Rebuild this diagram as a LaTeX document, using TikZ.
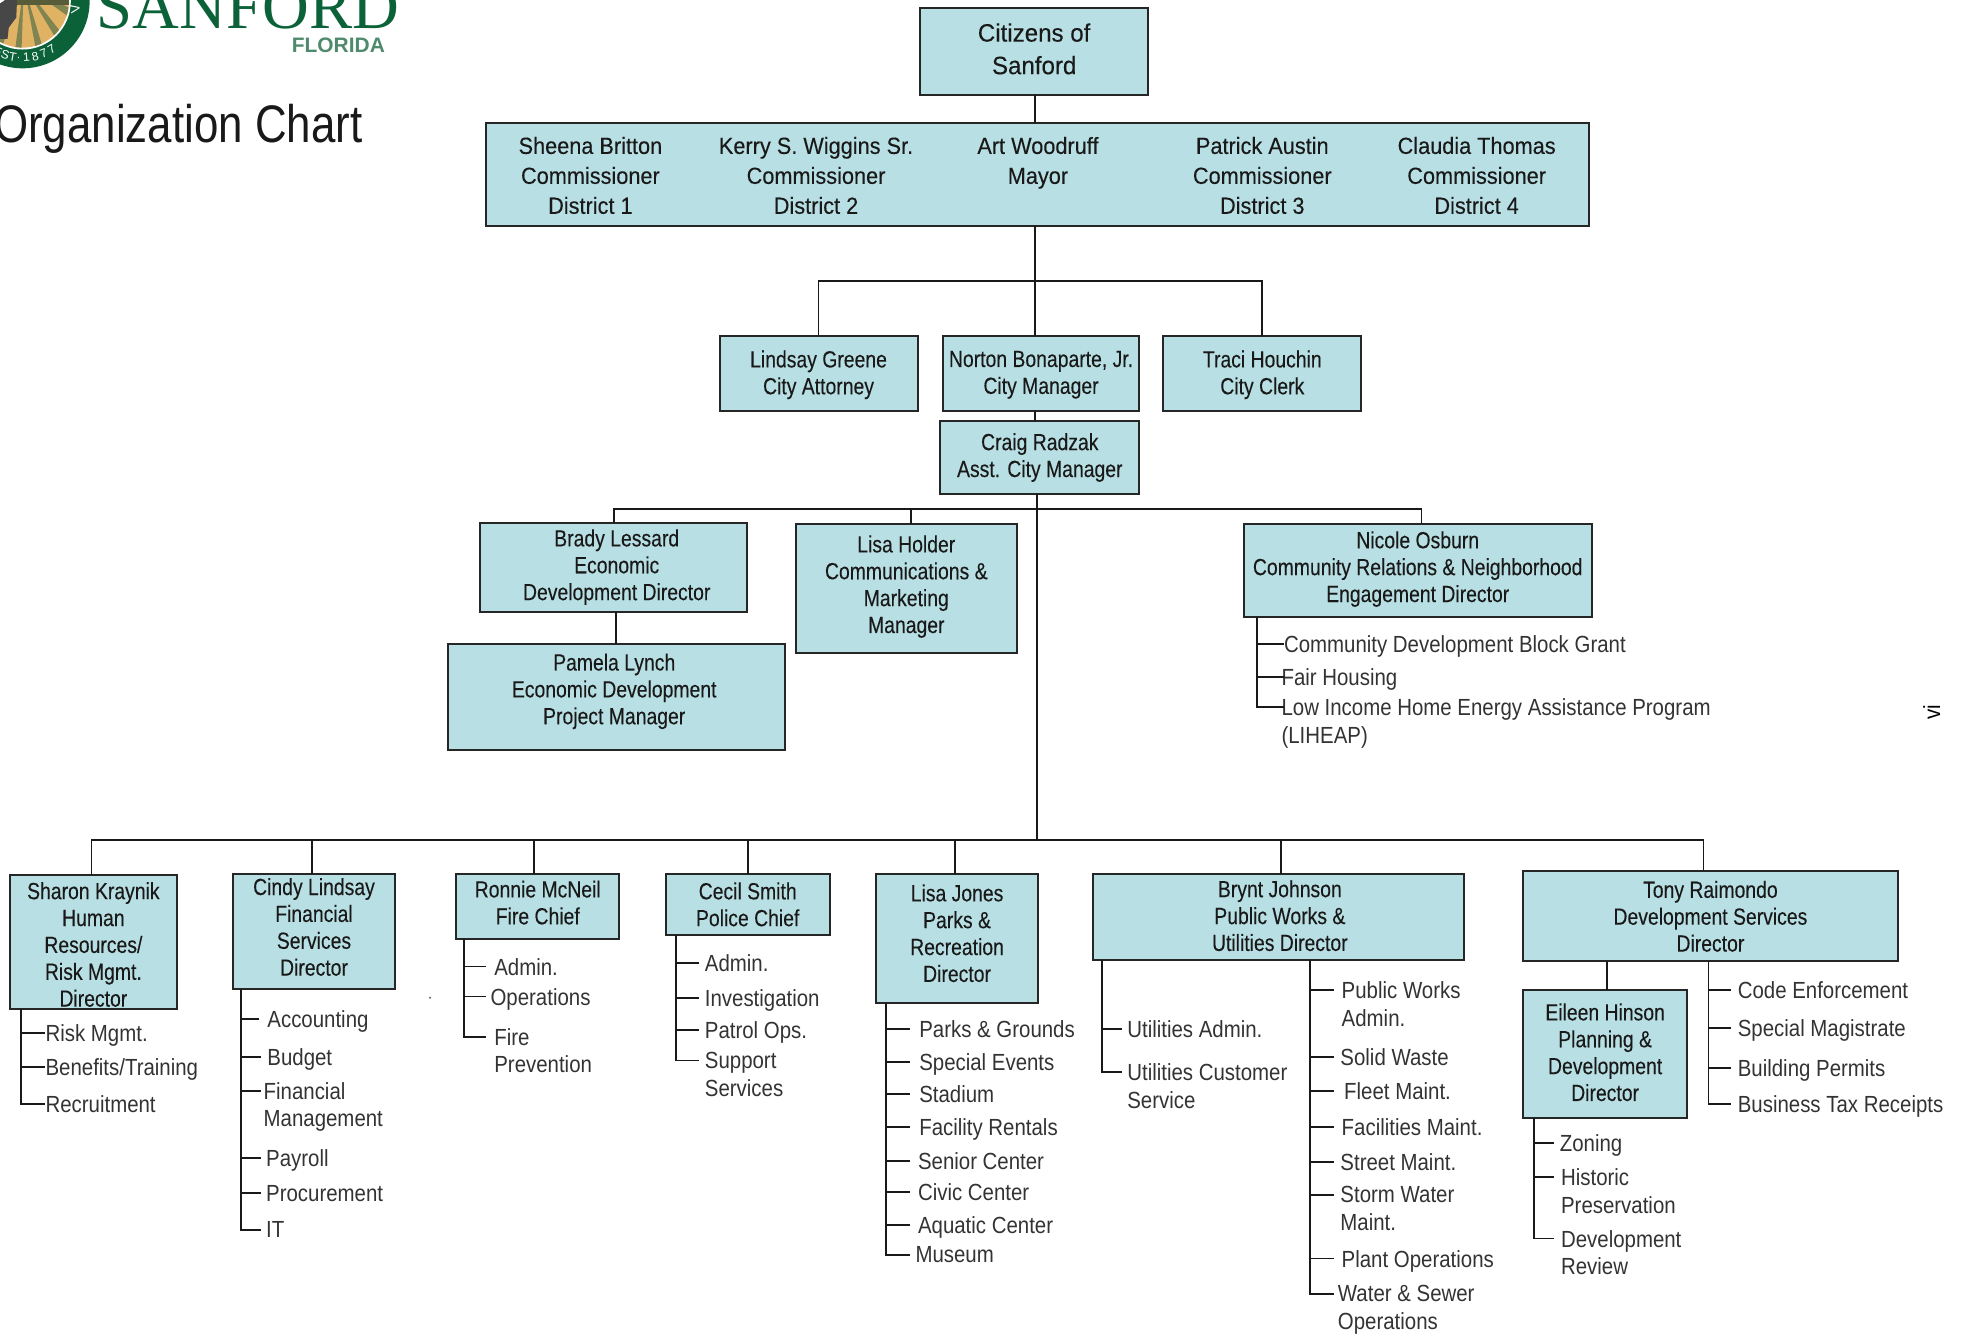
\documentclass[tikz,border=0pt]{standalone}
\usepackage{fontspec}
\usetikzlibrary{calc}
\setmainfont[FakeStretch=0.875]{Liberation Sans}
\newfontfamily\boxfont[FakeStretch=0.83,FakeBold=0.15]{Liberation Sans}
\newfontfamily\memberfont[FakeStretch=0.93,FakeBold=0.15]{Liberation Sans}
\newfontfamily\citizenfont[FakeStretch=0.96,FakeBold=0.15]{Liberation Sans}
\newfontfamily\titlefont[FakeStretch=0.83]{Liberation Sans}
\newfontfamily\logoserif{Liberation Serif}
\newfontfamily\logosans{Liberation Sans}
\definecolor{boxteal}{HTML}{B8DFE3}
\definecolor{sealgreen}{HTML}{0B6238}
\definecolor{sealtan}{HTML}{E0B264}
\definecolor{sealolive}{HTML}{7F8450}
\definecolor{florida}{HTML}{4F8A6C}
\tikzset{
  staffbox/.style={rectangle, draw=black!85, line width=0.9pt, fill=boxteal, inner sep=0pt, outer sep=0pt},
  boxsize/.style 2 args={minimum width=#1*0.2mm, minimum height=#2*0.2mm},
  stafftext/.style={align=center, inner sep=0pt, text=black!90, font=\boxfont\fontsize{10.6}{12.2}\selectfont},
  memberlabel/.style={align=center, inner sep=0pt, text=black!90, font=\memberfont\fontsize{10.6}{13.6}\selectfont},
  unitlabel/.style={anchor=north west, yshift=4pt, align=left, inner sep=0pt, text=black!80, font=\fontsize{10.6}{12.6}\selectfont},
  linkline/.style={draw=black!90, line width=0.85pt}
}
\begin{document}
\begin{tikzpicture}[x=0.02cm, y=-0.02cm]
                  \useasboundingbox (0,0) rectangle (1567.6,1066.6);

                  % Logo
                  \fill[sealgreen] (18,1) circle (53.5);
                  \fill[white] (18,1) circle (38.5);
                  \begin{scope}
                  \clip (18,1) circle (37);
                  \fill[sealtan] (-20,-40) rectangle (60,40);
                  \foreach \a in {8,30,52,74,96,118,140,162}
                  \fill[sealolive] (19,-12) -- (\a:60) -- (\a+7:60) -- cycle;
                  \fill[sealolive!70!black] (-20,-40) rectangle (60,4);
                  \fill[black!72] (-20,-10) -- (14,-10) -- (13,14) -- (7,22) -- (6,31) -- (-20,31) -- cycle;
                  \fill[white] (-3,-6) circle (9);
                  \end{scope}
                  \foreach \ch/\a in {E/116,S/108,T/100,./94,1/86,8/77,7/68,7/59}
                  \node[white, inner sep=0pt, rotate=90-\a, font=\logosans\fontsize{5.5}{6}\selectfont] (seal\a) at ($(18,1)+(\a:45)$) {\ch};
                  \node[white, inner sep=0pt, rotate=100, font=\logosans\fontsize{6}{6}\selectfont] (sealtop) at (60,7) {V};
                  \node[anchor=base west, inner sep=0pt, text=sealgreen, font=\logoserif\fontsize{29.4}{30}\selectfont] (sanford) at (77,22.6) {SANFORD};
                  \node[anchor=west, inner sep=0pt, text=florida, font=\logosans\bfseries\fontsize{9.5}{10}\selectfont] (floridaname) at (232.5,36) {FLORIDA};
                  \node[anchor=west, inner sep=0pt, text=black!90, font=\titlefont\fontsize{24}{26}\selectfont] (charttitle) at (-5,103) {Organization Chart};

                  % Nodes
                  \foreach \name/\cx/\cy/\w/\h/\tx/\ty/\txt in {
                    manager/830.5/298/157/60/830.5/299/{Norton Bonaparte, Jr.\\City Manager},
                    attorney/653/298/158/60/653/299/{Lindsay Greene\\City Attorney},
                    clerk/1007/298/158/60/1007/299/{Traci Houchin\\City Clerk},
                    asst/829.5/365/159/58/829.5/365/{Craig Radzak\\Asst. City Manager},
                    brady/489.5/452.5/213/71/492/452.5/{Brady Lessard\\Economic\\Development Director},
                    holder/723/469.5/176/103/723/468/{Lisa Holder\\Communications \&\\Marketing\\Manager},
                    nicole/1131/455/278/74/1131/454/{Nicole Osburn\\Community Relations \& Neighborhood\\Engagement Director},
                    pamela/491.5/556/269/84/490/551.5/{Pamela Lynch\\Economic Development\\Project Manager},
                    sharon/74.5/751.5/133/107/74.5/753.5/{Sharon Kraynik\\Human\\{Resources/}\\Risk Mgmt.\\Director},
                    cindy/250.5/743/129/92/250.5/739.5/{Cindy Lindsay\\Financial\\Services\\Director},
                    ronnie/429/723/130/52/429/720/{Ronnie McNeil\\Fire Chief},
                    cecil/596.5/721.5/131/49/596.5/721.5/{Cecil Smith\\Police Chief},
                    lisajones/763.5/748.5/129/103/763.5/744.5/{Lisa Jones\\Parks \&\\Recreation\\Director},
                    bryant/1020/731.5/296/69/1021/730.5/{Brynt Johnson\\Public Works \&\\Utilities Director},
                    tony/1364.5/731/299/72/1364.5/731/{Tony Raimondo\\Development Services\\Director},
                    eileen/1280.5/841/131/102/1280.5/839.5/{Eileen Hinson\\Planning \&\\Development\\Director}}
                  {
                  \node[staffbox, boxsize={\w}{\h}] (\name) at (\cx,\cy) {};
                  \node[stafftext] (\name-text) at (\tx,\ty) {\txt};
                  }
                  \node[staffbox, boxsize={182}{70}] (citizens) at (825,41) {};
                  \node[stafftext, font=\citizenfont\fontsize{11.4}{14.8}\selectfont] (citizens-text) at (825,39) {Citizens of\\Sanford};
                  \node[staffbox, boxsize={880}{82}] (council) at (828,139) {};
                  \foreach \name/\x/\txt in {
                    britton/471/{Sheena Britton\\Commissioner\\District 1},
                    wiggins/651/{Kerry S. Wiggins Sr.\\Commissioner\\District 2},
                    woodruff/828/{Art Woodruff\\Mayor\\\phantom{District}},
                    austin/1007/{Patrick Austin\\Commissioner\\District 3},
                    thomas/1178/{Claudia Thomas\\Commissioner\\District 4}}
                  \node[memberlabel] (\name) at (\x,140) {\txt};

                  % Units under each director
                  \foreach \name/\x/\y/\e/\txt in {
                    risk/36/824/36/{Risk Mgmt.}, benefits/36/851/36/{Benefits/Training}, recruit/36/881/36/Recruitment,
                    accounting/213/813/207/Accounting, budget/213/843/208/Budget, finmgmt/210/870/208/{Financial\\Management},
                    payroll/212/924/208/Payroll, procure/212/952/208/Procurement, infotech/212/981/208/IT,
                    fireadmin/394/771/388/{Admin.}, fireops/391/795/388/Operations, fireprev/394/827/388/{Fire\\Prevention},
                    policeadmin/562/768.5/558/{Admin.}, investig/562/796/558/Investigation, patrol/562/822/558/{Patrol Ops.}, support/562/846/558/{Support\\Services},
                    grounds/733/821/726/{Parks \& Grounds}, events/733/847/726/{Special Events}, stadium/733/873/726/Stadium, rentals/733/899/726/{Facility Rentals},
                    senior/732/926/726/{Senior Center}, civic/732/951/726/{Civic Center}, aquatic/732/977/726/{Aquatic Center}, museum/730/1001/726/Museum,
                    utiladmin/899/821/895/{Utilities Admin.}, utilcust/899/855/895/{Utilities Customer\\Service},
                    pwadmin/1070/790/1064/{Public Works\\Admin.}, waste/1069/843/1064/{Solid Waste}, fleet/1072/870/1064/{Fleet Maint.},
                    facilities/1070/899/1064/{Facilities Maint.}, street/1069/927/1064/{Street Maint.}, storm/1069/953/1064/{Storm Water\\Maint.},
                    plant/1070/1004/1064/{Plant Operations}, water/1067/1032/1064/{Water \& Sewer\\Operations},
                    zoning/1244/912/1240/Zoning, historic/1245/939/1240/{Historic\\Preservation}, review/1245/988/1240/{Development\\Review},
                    code/1386/790/1381/{Code Enforcement}, magistrate/1386/820/1381/{Special Magistrate}, permits/1386/852/1381/{Building Permits}, receipts/1386/881/1381/{Business Tax Receipts},
                    blockgrant/1024/514/1024/{Community Development Block Grant}, housing/1022/540/1024/{Fair Housing}, liheap/1022/564/1024/{Low Income Home Energy Assistance Program\\(LIHEAP)}}
                  {
                  \node[unitlabel] (\name) at (\x,\y) {\txt};
                  \coordinate (\name-t) at (\e,\y);
                  }
                  \node[inner sep=0pt, rotate=90, font=\fontsize{10.6}{12}\selectfont] (sidenote) at (1541,568) {vi};
                  \fill[black!60] (343,796) circle (0.9);

                  % Arrows
                  \coordinate (busa) at (826,224);
                  \coordinate (busb) at (827,406);
                  \coordinate (busc) at (827,670);
                  \draw[linkline] (citizens.south -| busa) -- (council.north -| busa);
                  \draw[linkline] (council.south -| busa) -- (manager.north -| busa);
                  \draw[linkline] (manager.south -| busa) -- (asst.north -| busa);
                  \draw[linkline] (attorney.north) |- (busa) -| (clerk.north);
                  \draw[linkline] (asst.south -| busc) -- (busc);
                  \foreach \name/\x in {brady/490,holder/727,nicole/1134}
                  {
                  \coordinate (drop) at (\x,406);
                  \draw[linkline] (busb) -- (drop) -- (drop |- \name.north);
                  }
                  \foreach \name/\x in {sharon/73,cindy/249,ronnie/426,cecil/597,lisajones/762,bryant/1022,tony/1359}
                  {
                  \coordinate (drop) at (\x,670);
                  \draw[linkline] (busc) -- (drop) -- (drop |- \name.north);
                  }
                  \draw[linkline] (brady.south -| pamela.north) -- (pamela.north);
                  \coordinate (eileendrop) at (1282,0);
                  \draw[linkline] (tony.south -| eileendrop) -- (eileen.north -| eileendrop);
                  \foreach \boss/\tx/\rest/\last in {
                    sharon/17/{risk,benefits}/recruit,
                    cindy/192/{accounting,budget,finmgmt,payroll,procure}/infotech,
                    ronnie/370/{fireadmin,fireops}/fireprev,
                    cecil/539/{policeadmin,investig,patrol}/support,
                    lisajones/707/{grounds,events,stadium,rentals,senior,civic,aquatic}/museum,
                    bryant/879/{utiladmin}/utilcust,
                    bryant/1045/{pwadmin,waste,fleet,facilities,street,storm,plant}/water,
                    eileen/1224/{zoning,historic}/review,
                    tony/1363/{code,magistrate,permits}/receipts,
                    nicole/1003/{blockgrant,housing}/liheap}
                  {
                  \coordinate (trunk) at (\tx,0);
                  \draw[linkline] (trunk |- \boss.south) |- (\last-t);
                  \foreach \u in \rest
                  \draw[linkline] (trunk |- \u-t) -- (\u-t);
                  }
              \end{tikzpicture}
\end{document}
